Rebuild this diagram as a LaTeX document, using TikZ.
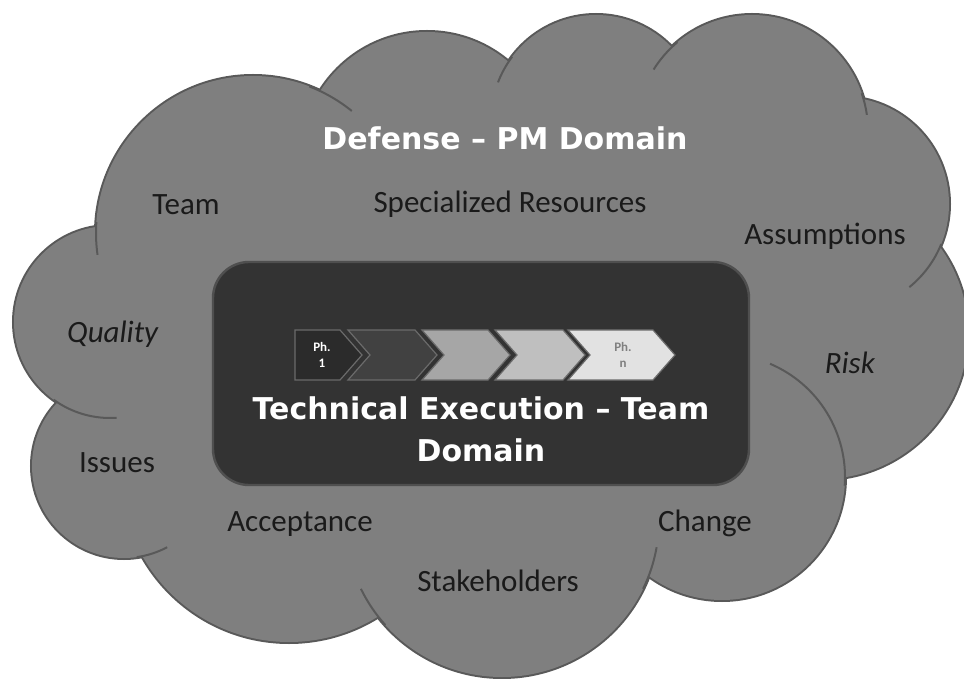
\documentclass[tikz,border=0pt]{standalone}
\usepackage{fontspec}
\setmainfont{Carlito}
\newfontfamily\headfont{DejaVu Sans}

\definecolor{cloudfill}{HTML}{7F7F7F}
\definecolor{cloudedge}{HTML}{595959}
\definecolor{panel}{HTML}{333333}
\definecolor{panelrim}{HTML}{4F4F4F}
\definecolor{chevedge}{HTML}{6B6B6B}
\definecolor{ph1}{HTML}{2B2B2B}
\definecolor{ph2}{HTML}{414141}
\definecolor{ph3}{HTML}{A6A6A6}
\definecolor{ph4}{HTML}{BFBFBF}
\definecolor{ph5}{HTML}{E2E2E2}
\definecolor{phgrey}{HTML}{808080}
\definecolor{txtdark}{HTML}{1A1A1A}

\begin{document}
\begin{tikzpicture}[x=0.5pt,y=-0.5pt, % one unit = one pixel of the page, y downwards
        cloudtext/.style={anchor=base,text=txtdark,font=\fontsize{15.5}{18}\selectfont},
        headtext/.style={anchor=base,text=white,font=\headfont\bfseries\fontsize{15}{18}\selectfont},
        phtext/.style={align=center,font=\bfseries\fontsize{6.5}{8}\selectfont},
        chevron/.style={draw=chevedge,line width=0.6pt}]

        \useasboundingbox (0,0) rectangle (964,679);

        % Cloud lobes: centre x / centre y / radius
        \def\lobes{253/233/157,110/322/96,124/466/92,289/474/168,502/520/157,722/477/123,822/333/146,842/204/107,752/131/116,596/120/105,427/158/126}

        % Outline every lobe
        \foreach \cx/\cy/\r in \lobes {
            \filldraw[draw=cloudedge,fill=cloudfill,line width=2pt] (\cx,\cy) circle[radius=\r];
        }

        % Fill again so only the outer rim is left
        \foreach \cx/\cy/\r in \lobes {
            \fill[cloudfill] (\cx,\cy) circle[radius=\r];
        }
        \fill[cloudfill] (102,235) -- (65,404) -- (147,550) -- (380,610) -- (645,572) -- (838,474)
            -- (936,256) -- (864,106) -- (670,54) -- (508,68) -- (323,96) -- cycle;

        % Short inner arcs where the lobes meet
        \foreach \cx/\cy/\r/\a/\b in {253/233/157/184/172, 253/233/157/-69/-51, 110/322/96/126/86,
                124/466/92/82/62, 502/520/157/138/154, 502/520/157/26/10, 722/477/123/4/-67,
                842/204/107/22/51, 752/131/116/-19/-8, 752/131/116/-130/-148, 596/120/105/-143/-159} {
            \draw[cloudedge,line width=1pt] (\cx,\cy) ++(\a:\r) arc[start angle=\a,end angle=\b,radius=\r];
        }

        % Team domain panel
        \draw[fill=panel,draw=panelrim,line width=1.2pt,rounded corners=18pt] (213,262) rectangle (749,485);

        % Phase chevrons, the first one is a plain pentagon
        \draw[chevron,fill=ph1] (295,330) -- (340,330) -- (362,355) -- (340,380) -- (295,380) -- cycle;
        \foreach \l/\r/\c in {348/415/ph2, 422/488/ph3, 495/563/ph4, 568/653/ph5} {
            \draw[chevron,fill=\c] (\l,330) -- (\r,330) -- (\r+22,355) -- (\r,380) -- (\l,380) -- (\l+22,355) -- cycle;
        }
        \node[phtext,text=white] (phfirst) at (322,355) {Ph.\\1};
        \node[phtext,text=phgrey] (phlast) at (623,355) {Ph.\\n};

        % Domain titles
        \node[headtext] (pmdomain) at (505,150) {Defense – PM Domain};
        \node[headtext] (techexec) at (481,419) {Technical Execution – Team};
        \node[headtext] (techdomain) at (481,461) {Domain};

        % Items round the cloud
        \foreach \n/\x/\y/\t in {team/186/215/Team, specres/510/213/Specialized Resources,
                assump/825/245/Assumptions, quality/113/343/\textit{Quality}, risk/850/373/\textit{Risk},
                issues/117/472/Issues, accept/300/531/Acceptance, change/705/531/Change,
                stake/498/591/Stakeholders} {
            \node[cloudtext] (\n) at (\x,\y) {\t};
        }

    \end{tikzpicture}
\end{document}
